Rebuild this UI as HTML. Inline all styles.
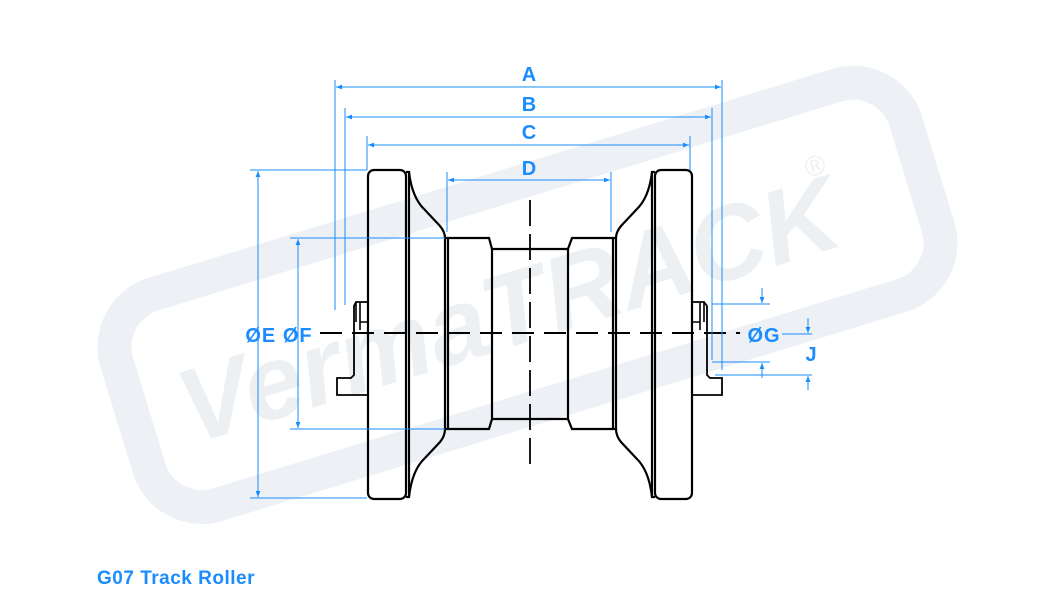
<!DOCTYPE html>
<html><head><style>
html,body{margin:0;padding:0;background:#fff;}
svg{display:block;}
.b{font-family:"Liberation Sans",sans-serif;font-weight:bold;fill:#1a8cff;}
</style></head><body>
<svg width="1050" height="600" viewBox="0 0 1050 600" xmlns="http://www.w3.org/2000/svg">
<defs>
<marker id="ar" viewBox="0 0 10 10" refX="10" refY="5" markerWidth="8" markerHeight="6" orient="auto-start-reverse"><path d="M0,1 L10,5 L0,9 z" fill="#1a8cff"/></marker>
</defs>
<!-- watermark -->
<g transform="rotate(-17 527 295)">
<rect x="115" y="185" width="825" height="220" rx="55" fill="#fff" stroke="#edf1f6" stroke-width="34"/>
<text x="505" y="340" text-anchor="middle" font-family="Liberation Sans,sans-serif" font-weight="bold" font-style="italic" font-size="105" fill="#edf0f3">VermaTRACK</text>
<text x="830" y="265" font-family="Liberation Sans,sans-serif" font-size="28" fill="#edf0f3">®</text>
</g>
<!-- roller drawing -->
<g fill="none" stroke="#000" stroke-width="2.2">
<rect x="368" y="170" width="38" height="329" rx="6"/>
<rect x="655" y="170" width="37" height="329" rx="6"/>
<path d="M406,172 L409,172 Q412,198 425,210 L440,226 Q445,232 445,238 L445,429 Q445,436 440,442 L425,458 Q412,470 409,497 L406,497"/>
<line x1="409" y1="172" x2="409" y2="497"/>
<path d="M445,238 L489,238 L492,249 L492,419 L489,429 L445,429"/>
<line x1="448" y1="238" x2="448" y2="429"/>
<line x1="492" y1="249" x2="568" y2="249"/>
<line x1="492" y1="419" x2="568" y2="419"/>
<path d="M655,172 L652,172 Q649,198 636,210 L621,226 Q616,232 616,238 L616,429 Q616,436 621,442 L636,458 Q649,470 652,497 L655,497"/>
<line x1="652" y1="172" x2="652" y2="497"/>
<path d="M616,238 L572,238 L568,249 L568,419 L572,429 L616,429"/>
<line x1="613" y1="238" x2="613" y2="429"/>
<path d="M368,302 L356,302 L354,306 L354,375 L351,378 L337,378 L337,395 L368,395" stroke-width="1.8"/>
<path d="M360,303 L360,330 M360,322 L368,322 M356,302 L356,322" stroke-width="1.6"/>
<path d="M692,302 L704,302 L707,306 L707,375 L710,378 L722,378 L722,395 L692,395" stroke-width="1.8"/>
<path d="M700,303 L700,330 M700,322 L692,322 M704,302 L704,322" stroke-width="1.6"/>
</g>
<line x1="320" y1="333" x2="740" y2="333" stroke="#000" stroke-width="2" stroke-dasharray="22,10"/>
<line x1="530" y1="200" x2="530" y2="472" stroke="#000" stroke-width="1.8" stroke-dasharray="26,8"/>
<g stroke="#1a8cff" stroke-width="1" fill="none">
<line x1="335" y1="80" x2="335" y2="310"/><line x1="722" y1="80" x2="722" y2="370"/>
<line x1="345" y1="108" x2="345" y2="305"/><line x1="712" y1="108" x2="712" y2="360"/>
<line x1="367" y1="136" x2="367" y2="170"/><line x1="690" y1="136" x2="690" y2="170"/>
<line x1="447" y1="172" x2="447" y2="232"/><line x1="611" y1="172" x2="611" y2="232"/>
<line x1="336" y1="87" x2="721" y2="87" marker-start="url(#ar)" marker-end="url(#ar)"/>
<line x1="346" y1="117" x2="711" y2="117" marker-start="url(#ar)" marker-end="url(#ar)"/>
<line x1="368" y1="145" x2="689" y2="145" marker-start="url(#ar)" marker-end="url(#ar)"/>
<line x1="448" y1="180" x2="610" y2="180" marker-start="url(#ar)" marker-end="url(#ar)"/>
<line x1="250" y1="170" x2="367" y2="170"/><line x1="250" y1="498" x2="367" y2="498"/>
<line x1="258" y1="171" x2="258" y2="497" marker-start="url(#ar)" marker-end="url(#ar)"/>
<line x1="290" y1="238" x2="445" y2="238"/><line x1="290" y1="429" x2="445" y2="429"/>
<line x1="298" y1="239" x2="298" y2="428" marker-start="url(#ar)" marker-end="url(#ar)"/>
<line x1="712" y1="304" x2="770" y2="304"/><line x1="712" y1="362" x2="770" y2="362"/>
<line x1="762" y1="288" x2="762" y2="303" marker-end="url(#ar)"/>
<line x1="762" y1="378" x2="762" y2="363" marker-end="url(#ar)"/>
<line x1="782" y1="334" x2="812" y2="334"/><line x1="715" y1="375" x2="812" y2="375"/>
<line x1="808" y1="318" x2="808" y2="333" marker-end="url(#ar)"/>
<line x1="808" y1="390" x2="808" y2="376" marker-end="url(#ar)"/>
</g>
<g class="b" font-size="20" text-anchor="middle">
<text x="529" y="81">A</text>
<text x="529" y="111">B</text>
<text x="529" y="139">C</text>
<text x="529" y="175">D</text>
<text x="279" y="342" letter-spacing="1">ØE ØF</text>
<text x="764" y="342" letter-spacing="1">ØG</text>
<text x="811" y="361">J</text>
</g>
<text class="b" x="97" y="584" font-size="19" letter-spacing="0.5">G07 Track Roller</text>
</svg>
</body></html>
